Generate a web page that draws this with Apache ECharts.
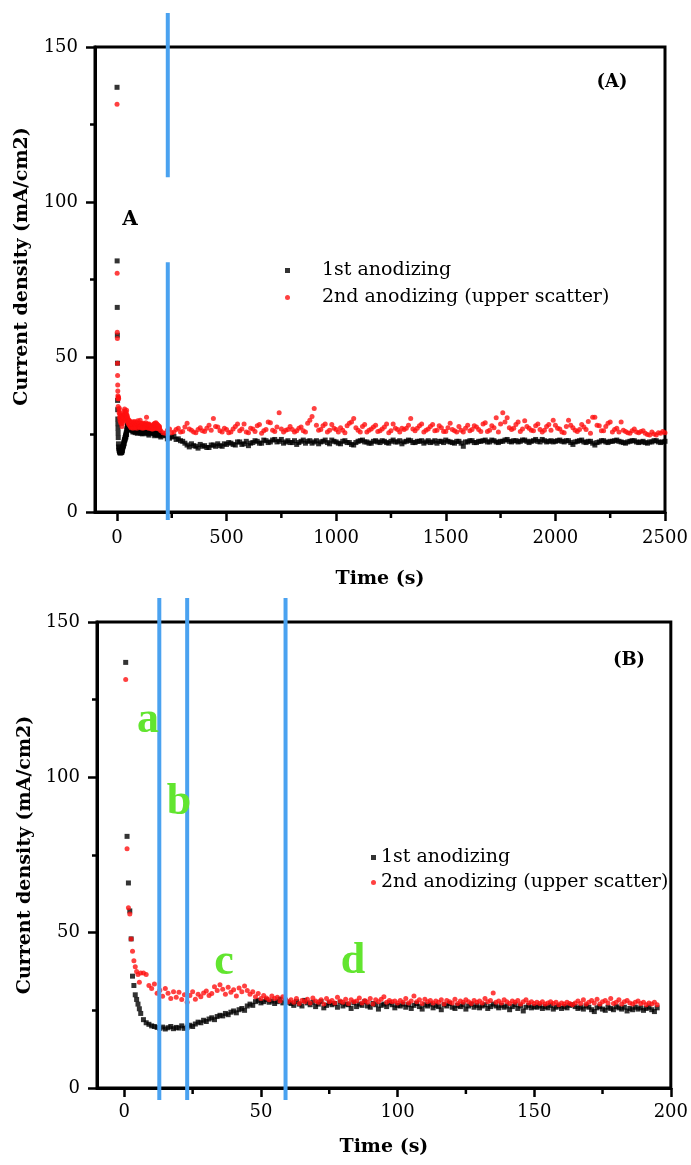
<!DOCTYPE html>
<html>
<head>
<meta charset="utf-8">
<script src="https://cdn.jsdelivr.net/npm/echarts@6/dist/echarts.min.js"></script>
<style>
html,body{margin:0;padding:0;background:#fff;}
#c{width:691px;height:1165px;}
</style>
</head>
<body>
<div id="c"></div>
<script>
// ---------- DATA ----------
// Panel B (0–195 s): sampling 0.5 s up to 6 s, then 1 s
const tB_early = [0.5, 1, 1.5, 2, 2.5, 3, 3.5, 4, 4.5, 5, 5.5, 6];
const tB_stepStart = 7, tB_step = 1;
const firstB = [137, 81, 66, 57, 48, 36, 33, 30, 28.5, 27, 25.5, 24,
  22, 21, 20.5, 20, 19.8, 19.5,
  19.2, 19.6, 19.0, 19.4, 19.8, 19.1, 19.5, 19.3, 20.0, 19.2,
  19.6, 20.2, 19.8, 20.6, 21.2, 21.0,
  21.8, 21.4, 22.2, 22.6, 22.0, 23.0, 23.4,
  23.2, 24.0, 23.6, 24.4, 24.8, 24.2, 25.2, 25.6, 25.0, 26.4,
  27.0, 26.6, 27.8, 28.2, 27.4, 27.8, 28.4,
  27.6, 28.0, 27.2, 27.8, 28.6, 27.4, 28.0, 27.6,
  27.2, 26.6, 27.8, 27.0, 26.4, 28.2, 27.4, 26.8, 27.6, 26.2, 27.0, 27.8, 25.8, 26.6, 27.4, 26.8, 27.2, 26.0, 27.6, 26.4,
  27.0, 26.8, 25.6, 27.4, 26.2, 27.0, 26.6, 27.8, 26.4, 26.0, 27.2, 26.8, 25.4, 26.6, 27.0, 26.2, 27.4, 26.8, 25.8, 26.6,
  26.4, 27.0, 26.0, 26.8, 25.6, 26.6, 27.2, 26.2, 25.4, 26.8, 26.4, 27.0, 25.8, 26.6, 26.2, 25.2, 26.8, 26.4, 27.2, 26.0,
  25.6, 26.6, 26.2, 26.8, 25.4, 26.4, 27.0, 26.0, 26.6, 25.8, 26.4, 26.8, 25.6, 26.2, 27.0, 26.4, 25.8, 26.6, 26.0, 26.4,
  25.2, 26.2, 26.8, 25.6, 26.4, 24.8, 26.0, 26.6, 25.8, 26.2,
  26.0, 26.4, 25.6, 26.2, 25.8, 26.6, 25.4, 26.0, 26.4, 25.6, 26.2, 25.8, 26.6, 26.8, 26.2, 25.6, 26.0, 25.4, 26.4, 26.0,
  25.2, 24.6, 25.8, 26.2, 25.4, 25.0, 26.0, 25.6, 25.2, 26.2, 25.8, 25.4, 26.0, 24.8, 25.6, 25.2, 26.0, 25.4, 25.8, 25.0,
  25.6, 26.0, 25.2, 24.6, 25.8];
const secondB = [131.5, 77, 58, 56, 48, 44, 41, 39, 37.5, 36.5, 34, 37,
  37, 36.5, 33, 32, 33.5, 30.5,
  31.5, 29.5, 32, 30.5, 28.8, 31, 29.2, 30.8, 28.5, 30,
  27.6, 29.8, 31, 28.6, 30.2, 29.4,
  30.6, 31.2, 29.8, 30.4, 32.6, 31.4, 33.2,
  31.8, 30.2, 32.4, 30.8, 31.6, 29.6, 32.2, 31.0, 32.8, 31.4,
  30.2, 31.0, 29.4, 30.4, 28.8, 29.8, 29.0,
  28.4, 29.6, 28.8, 29.2, 28.0, 29.4, 28.6, 27.8,
  28.4, 27.6, 28.8, 27.2, 28.2, 27.8, 28.6, 27.4, 29.0, 28.0, 27.6, 28.4, 27.0, 28.8, 27.8, 28.2, 27.4, 29.2, 28.0, 27.6,
  28.6, 27.2, 28.4, 27.8, 28.0, 29.0, 27.4, 28.2, 27.6, 28.8, 27.0, 28.4, 27.8, 28.6, 29.4, 27.6, 28.2, 27.8, 28.0, 27.4,
  28.2, 27.6, 28.8, 27.4, 28.0, 29.6, 27.8, 28.4, 27.2, 28.6, 27.8, 28.2, 27.4, 28.0, 27.6, 28.4, 27.0, 28.2, 27.8, 27.4,
  28.6, 27.2, 28.0, 27.6, 28.4, 27.8, 27.2, 28.2, 27.6, 28.0, 27.4, 28.8, 27.8, 28.2, 30.6, 27.6, 28.0, 27.4, 28.4, 27.8,
  27.2, 28.0, 27.6, 28.2, 27.0, 27.8, 28.4, 27.4, 27.8, 27.2,
  27.6, 27.2, 27.8, 27.0, 27.4, 27.8, 27.2, 27.6, 26.8, 27.4, 27.0, 27.6, 27.2, 26.8, 27.4, 28.0, 27.2, 28.4, 27.0, 27.6,
  28.2, 27.4, 28.6, 27.0, 27.8, 28.2, 27.4, 28.8, 27.2, 27.6, 28.4, 27.0, 27.8, 28.2, 27.4, 27.0, 27.6, 28.0, 27.2, 27.6,
  26.8, 27.4, 27.0, 27.6, 26.8];

// Panel A continuation (200–2500 s, every 10 s)
const tA_start = 200, tA_step = 10;
const firstA = [
  24.2, 24.8, 24.6, 23.6, 23.8, 24.2, 24.4, 23.4, 23.6, 23.0,
  22.8, 22.2, 21.6, 21.0, 22.0, 21.4, 21.2, 20.6, 21.8, 21.2,
  21.4, 20.8, 20.8, 21.6, 21.6, 21.2, 22.0, 21.4, 21.2, 22.0,
  21.8, 22.4, 22.2, 21.8, 21.6, 22.6, 22.6, 21.8, 22.0, 22.8,
  21.4, 22.2, 22.4, 23.0, 22.8, 22.2, 22.2, 23.2, 23.0, 22.4,
  22.6, 23.2, 23.4, 22.6, 22.8, 23.4, 22.2, 22.6, 23.0, 22.4,
  22.4, 23.0, 21.8, 22.4, 22.8, 23.2, 22.2, 22.8, 23.0, 22.2,
  22.6, 23.0, 22.0, 22.6, 22.8, 23.2, 22.4, 22.0, 23.2, 22.8,
  22.6, 22.2, 22.0, 22.8, 23.0, 22.4, 22.4, 21.8, 21.6, 22.4,
  22.8, 23.0, 23.2, 22.6, 22.6, 22.2, 22.2, 22.8, 23.0, 22.6,
  22.4, 23.0, 22.8, 22.4, 22.2, 22.8, 23.2, 22.6, 22.6, 23.0,
  22.0, 22.6, 22.8, 23.2, 23.0, 22.4, 22.4, 22.8, 22.8, 23.0,
  22.2, 22.6, 23.0, 22.4, 22.6, 23.0, 22.2, 22.8, 22.8, 22.4,
  23.2, 22.8, 22.6, 22.4, 22.2, 22.8, 22.8, 22.2, 21.2, 22.6,
  22.6, 23.0, 23.0, 22.4, 22.4, 22.8, 22.8, 23.0, 23.2, 22.6,
  22.6, 23.2, 23.0, 22.6, 22.4, 22.8, 22.8, 23.2, 23.4, 22.8,
  22.6, 23.0, 23.0, 22.6, 22.8, 23.2, 23.2, 22.8, 22.4, 22.8,
  23.0, 23.4, 22.8, 22.6, 23.4, 23.0, 22.6, 22.8, 23.0, 22.6,
  22.8, 23.0, 23.2, 22.8, 22.6, 23.0, 23.0, 22.4, 21.8, 22.6,
  22.8, 23.0, 23.2, 22.6, 22.4, 22.8, 22.8, 22.2, 21.6, 22.4,
  22.6, 23.0, 23.0, 22.6, 22.4, 22.8, 22.8, 23.0, 23.2, 22.8,
  22.6, 22.4, 22.2, 22.6, 22.8, 23.0, 23.0, 22.6, 22.4, 22.6,
  22.8, 22.4, 22.2, 22.6, 22.6, 23.0, 23.0, 22.6, 22.4, 22.6,
  22.8];
const secondA = [
  26.2, 25.6, 25.4, 26.4, 26.8, 25.6, 25.8, 26.6, 27.0, 25.8,
  26.0, 27.4, 28.6, 26.8, 26.4, 25.8, 25.6, 26.6, 27.2, 26.2,
  26.0, 27.0, 28.0, 26.4, 30.2, 27.6, 27.4, 26.2, 25.8, 27.0,
  26.6, 25.6, 25.8, 26.8, 27.6, 28.4, 26.2, 26.8, 28.4, 25.8,
  25.6, 27.0, 26.8, 26.0, 27.8, 28.2, 25.4, 26.2, 26.6, 29.0,
  28.8, 26.4, 26.0, 27.4, 32.0, 26.8, 25.8, 26.4, 26.6, 27.6,
  26.6, 25.8, 26.2, 27.0, 27.4, 26.2, 25.8, 28.6, 29.6, 30.8,
  33.4, 28.0, 26.4, 26.6, 27.8, 28.4, 25.8, 26.4, 28.2, 27.0,
  26.6, 25.8, 27.2, 26.4, 25.6, 27.8, 28.6, 29.0, 30.2, 27.2,
  26.4, 25.8, 27.6, 28.2, 25.8, 26.4, 26.8, 27.4, 28.0, 26.0,
  26.2, 26.8, 27.4, 28.4, 25.6, 26.2, 28.4, 27.0, 26.6, 25.8,
  27.0, 26.6, 27.0, 28.0, 30.2, 26.8, 26.2, 27.0, 27.8, 28.4,
  25.8, 26.4, 26.8, 27.6, 28.2, 26.2, 26.4, 27.8, 27.2, 26.0,
  26.0, 27.2, 28.6, 26.6, 26.2, 25.8, 27.6, 26.4, 25.8, 27.0,
  28.0, 26.2, 26.6, 27.8, 27.4, 26.6, 26.0, 28.4, 28.8, 26.0,
  26.4, 27.8, 27.2, 30.4, 25.8, 28.4, 32.0, 29.0, 30.4, 27.2,
  26.6, 27.0, 28.2, 29.0, 26.0, 26.8, 29.4, 27.6, 27.0, 26.4,
  26.2, 27.8, 28.4, 26.6, 25.8, 26.4, 27.6, 28.2, 26.4, 29.6,
  28.0, 27.0, 26.8, 25.8, 25.6, 27.6, 29.6, 28.0, 27.2, 26.4,
  26.0, 26.6, 28.2, 27.4, 26.6, 29.2, 25.4, 30.6, 30.6, 28.0,
  27.8, 26.2, 26.2, 27.6, 28.6, 29.0, 25.8, 26.6, 27.0, 25.8,
  29.0, 26.4, 26.0, 25.6, 25.4, 26.2, 26.8, 25.8, 25.6, 26.0,
  26.2, 25.4, 25.0, 24.8, 25.8, 25.2, 24.8, 25.6, 25.4, 26.0,
  25.6];

// Axis ticks
const xMajorA = [0, 500, 1000, 1500, 2000, 2500];
const xMinorA = [250, 750, 1250, 1750, 2250];
const xMajorB = [0, 50, 100, 150, 200];
const xMinorB = [25, 75, 125, 175];

// Annotation lines (blue), x positions in data units
const blueA = 232;
const blueB = [12.8, 23, 59];

const NAME1 = '1st anodizing';
const NAME2 = '2nd anodizing (upper scatter)';

// ---------- BUILD ----------
const tB = tB_early.concat(firstB.slice(tB_early.length).map((_, i) => tB_stepStart + i * tB_step));
const tA = firstA.map((_, i) => tA_start + i * tA_step);
const pairs = (t, v) => v.map((y, i) => [t[i], y]);
const b1 = pairs(tB, firstB), b2 = pairs(tB, secondB);
const a1 = b1.concat(pairs(tA, firstA)), a2 = b2.concat(pairs(tA, secondA));

const SERIF = 'DejaVu Serif';
const tickLbl = {fontFamily: SERIF, fontSize: 18, color: '#000'};
const nameStyle = {fontFamily: SERIF, fontSize: 19, fontWeight: 'bold', color: '#000'};
const axLine = {show: true, lineStyle: {color: '#000', width: 3}};
const plain = v => String(v);

function mainX(grid, min, max, major, gap, margin) {
  return {
    type: 'value', gridIndex: grid, min: min, max: max, position: 'bottom',
    name: 'Time (s)', nameLocation: 'middle', nameGap: gap, nameTextStyle: nameStyle,
    axisLine: Object.assign({onZero: false}, axLine),
    axisTick: {show: true, customValues: major, length: 9, lineStyle: {color: '#000', width: 2.5}},
    axisLabel: {show: true, customValues: major, margin: margin, formatter: plain, ...tickLbl},
    splitLine: {show: false}
  };
}
function yAx(grid, gap, pad) {
  return {
    type: 'value', gridIndex: grid, min: 0, max: 150, interval: 50,
    name: 'Current density (mA/cm2)', nameLocation: 'middle', nameGap: gap,
    nameTextStyle: Object.assign({padding: pad}, nameStyle),
    axisLine: Object.assign({onZero: false}, axLine),
    axisTick: {show: true, length: 9, lineStyle: {color: '#000', width: 2.5}},
    minorTick: {show: true, splitNumber: 2, length: 5, lineStyle: {color: '#000', width: 2.5}},
    axisLabel: {margin: 17, formatter: plain, ...tickLbl},
    splitLine: {show: false}, minorSplitLine: {show: false}
  };
}
function sc(name, x, y, data, black) {
  return {
    type: 'scatter', name: name, xAxisIndex: x, yAxisIndex: y, data: data,
    symbol: black ? 'rect' : 'circle', symbolSize: 5,
    itemStyle: {color: black ? '#000' : '#ff1010'}, animation: false, silent: true
  };
}

const chart = echarts.init(document.getElementById('c'), null, {renderer: 'canvas'});
chart.setOption({
  animation: false,
  backgroundColor: '#fff',
  grid: [
    {left: 95, right: 26, top: 47, height: 465, show: true, borderColor: '#000', borderWidth: 3, backgroundColor: 'transparent'},
    {left: 97, right: 19, top: 622, height: 466, show: true, borderColor: '#000', borderWidth: 3, backgroundColor: 'transparent'}
  ],
  xAxis: [
    mainX(0, -100, 2500, xMajorA, 58, 17),
    mainX(1, -10, 200, xMajorB, 50, 15)
  ],
  yAxis: [yAx(0, 63, [0, 0, 0, 26]), yAx(1, 55, [0, 0, 0, 0])],
  legend: [
    {left: 285, top: 261, orient: 'vertical', itemWidth: 5, itemHeight: 5, itemGap: 8, padding: 0,
     selectedMode: false, textStyle: {fontFamily: SERIF, fontSize: 19, color: '#000', padding: [0, 0, 0, 27]},
     data: [NAME1, NAME2]},
    {left: 371, top: 848, orient: 'vertical', itemWidth: 5, itemHeight: 5, itemGap: 6, padding: 0,
     selectedMode: false, textStyle: {fontFamily: SERIF, fontSize: 19, color: '#000'},
     data: [NAME1, NAME2]}
  ],
  series: [
    sc(NAME1, 0, 0, a1, true), sc(NAME2, 0, 0, a2, false),
    sc(NAME1, 1, 1, b1, true), sc(NAME2, 1, 1, b2, false)
  ]
});

// Annotations and minor x ticks, positioned through the axes
const px = (xi, yi, v) => chart.convertToPixel({xAxisIndex: xi, yAxisIndex: yi}, v);
const BLUE = '#4aa2f0';
const shapes = [];
function vline(xi, yi, x, y1, y2) {
  const p1 = px(xi, yi, [x, y1]), p2 = px(xi, yi, [x, y2]);
  shapes.push({type: 'line', silent: true, z: 100,
    shape: {x1: p1[0], y1: p1[1], x2: p2[0], y2: p2[1]},
    style: {stroke: BLUE, lineWidth: 4}});
}
function minorTick(xi, yi, x) {
  const p = px(xi, yi, [x, 0]);
  shapes.push({type: 'line', silent: true, z: 50,
    shape: {x1: p[0], y1: p[1], x2: p[0], y2: p[1] + 6},
    style: {stroke: '#000', lineWidth: 2.5}});
}
xMinorA.forEach(x => minorTick(0, 0, x));
xMinorB.forEach(x => minorTick(1, 1, x));
vline(0, 0, blueA, 161, 108);
vline(0, 0, blueA, 80.6, -2.6);
blueB.forEach(x => vline(1, 1, x, 157.7, -3.9));

const GREEN = '#62e52f';
const txt = (t, x, y, size, color, font, align) => ({
  type: 'text', silent: true, z: 101,
  style: {text: t, x: x, y: y, fill: color, font: 'bold ' + size + 'px ' + font,
          textAlign: align || 'center', textVerticalAlign: 'middle'}
});
const texts = [
  txt('A', 130, 220, 20, '#000', '"DejaVu Serif"'),
  txt('(A)', 612, 82, 18, '#000', '"DejaVu Serif"'),
  txt('(B)', 629, 660, 18, '#000', '"DejaVu Serif"'),
  txt('a', 148, 721, 44, GREEN, '"Liberation Serif"'),
  txt('b', 179, 803, 44, GREEN, '"Liberation Serif"'),
  txt('c', 224, 963, 44, GREEN, '"Liberation Serif"'),
  txt('d', 353, 962, 44, GREEN, '"Liberation Serif"')
];
chart.setOption({graphic: shapes.concat(texts)});
</script>
</body>
</html>
